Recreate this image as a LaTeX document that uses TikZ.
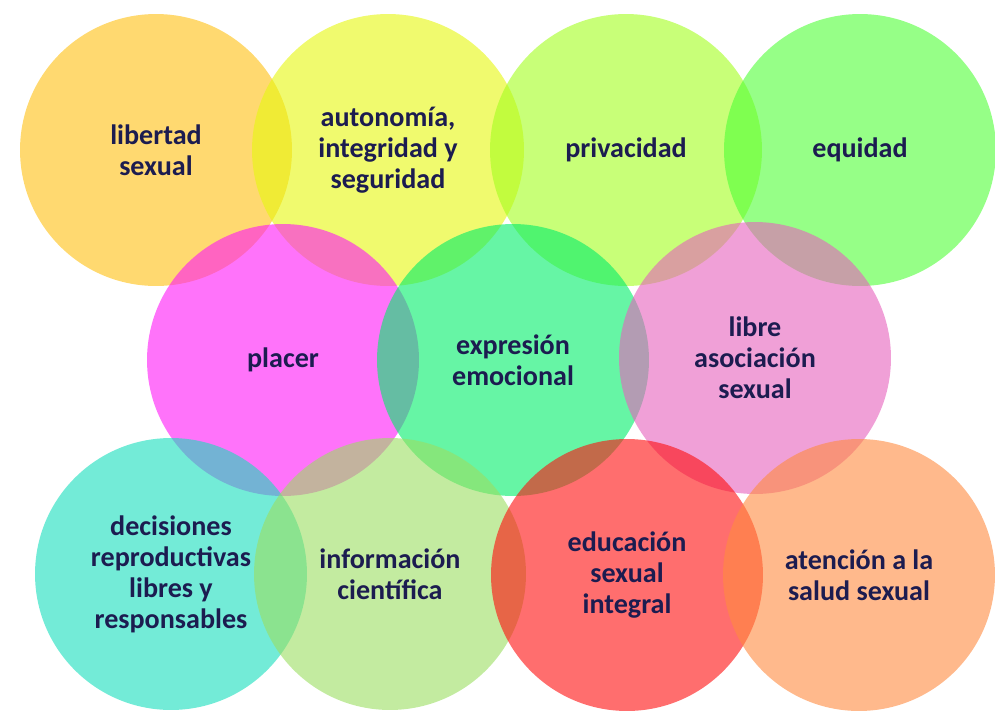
\documentclass[tikz,border=0pt]{standalone}
\usepackage{fontspec}
\setmainfont{Carlito}
\usepackage{tikz}

\definecolor{tinta}{RGB}{28,28,80}
\definecolor{cLibertad}{RGB}{255,192,17}
\definecolor{cAutonomia}{RGB}{230,247,13}
\definecolor{cPrivacidad}{RGB}{163,255,30}
\definecolor{cEquidad}{RGB}{80,255,55}
\definecolor{cPlacer}{RGB}{255,22,247}
\definecolor{cExpresion}{RGB}{0,238,105}
\definecolor{cLibre}{RGB}{230,97,188}
\definecolor{cDecisiones}{RGB}{22,222,188}
\definecolor{cInformacion}{RGB}{155,222,97}
\definecolor{cEducacion}{RGB}{255,13,13}
\definecolor{cAtencion}{RGB}{255,138,63}

\begin{document}
\begin{tikzpicture}[x=0.02cm, y=-0.02cm,
  every node/.style={circle, minimum size=5.44cm, inner sep=0pt, outer sep=0pt,
    fill opacity=0.6, text opacity=1, text=tinta, align=center,
    font=\bfseries\fontsize{16}{17.6}\selectfont}]
\useasboundingbox (0,0) rectangle (995,711);

% primera fila
\node[fill=cLibertad] (libertad) at (156,150) {libertad\\sexual};
\node[fill=cAutonomia] (autonomia) at (388,150) {autonomía,\\integridad y\\seguridad};
\node[fill=cPrivacidad] (privacidad) at (626,150) {privacidad};
\node[fill=cEquidad] (equidad) at (860,150) {equidad};

% segunda fila
\node[fill=cPlacer] (placer) at (283,360) {placer};
\node[fill=cExpresion] (expresion) at (513,360) {expresión\\emocional};
\node[fill=cLibre] (libre) at (755,358) {libre\\asociación\\sexual};

% tercera fila
\node[fill=cDecisiones] (decisiones) at (171,574) {decisiones\\reproductivas\\libres y\\responsables};
\node[fill=cInformacion] (informacion) at (390,574) {información\\científica};
\node[fill=cEducacion] (educacion) at (627,575) {educación\\sexual\\integral};
\node[fill=cAtencion] (atencion) at (859,575) {atención a la\\salud sexual};
\end{tikzpicture}
\end{document}
